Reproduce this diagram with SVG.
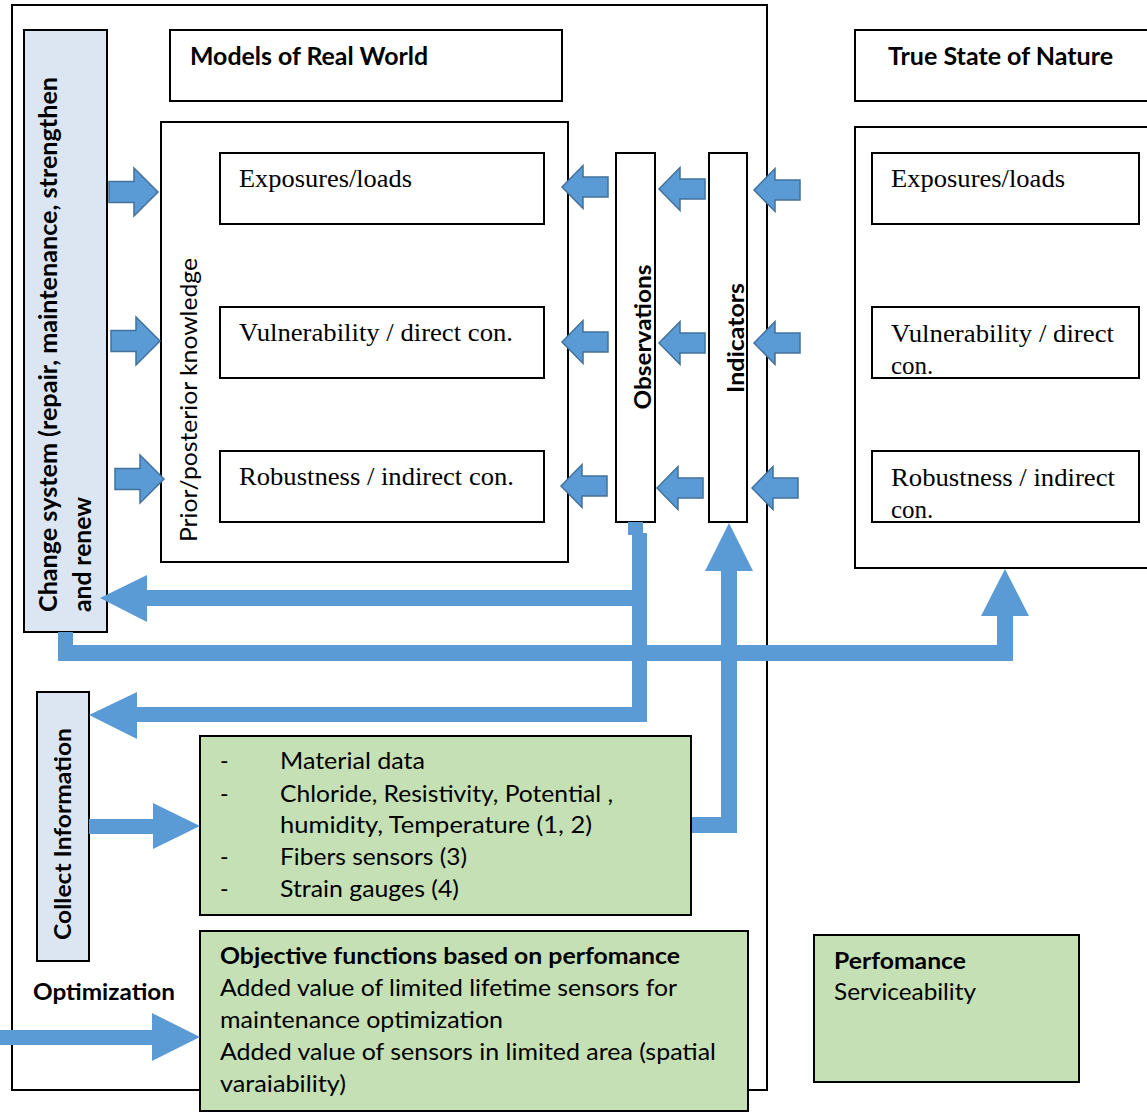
<svg xmlns="http://www.w3.org/2000/svg" width="1147" height="1113" viewBox="0 0 1147 1113">
<style>
.box{fill:#ffffff;stroke:#000000;stroke-width:2}
.blue{fill:#dce6f2;stroke:#000000;stroke-width:2}
.green{fill:#c5e0b4;stroke:#000000;stroke-width:2}
.sa{fill:#5b9bd5;stroke:#41719c;stroke-width:1.5}
.big{fill:#5b9bd5;stroke:none}
.hd{font-family:Lato,"Liberation Sans",sans-serif;font-weight:bold;font-size:24px;fill:#000}
.sans{font-family:Lato,"Liberation Sans",sans-serif;font-size:23px;fill:#000}
.sansb{font-family:Lato,"Liberation Sans",sans-serif;font-size:23px;font-weight:bold;fill:#000}
.ser{font-family:"Liberation Serif","Times New Roman",serif;font-size:25px;fill:#000}
</style>
<defs>
<path id="la" d="M0,0 L21,-21.5 L21,-10 L46,-10 L46,10 L21,10 L21,21.5 Z"/>
<path id="ra" d="M0,0 L-24,-24 L-24,-10.5 L-49,-10.5 L-49,10.5 L-24,10.5 L-24,24 Z"/>
</defs>
<rect width="1147" height="1113" fill="#fff"/>
<g id="outer"><rect class="box" x="12" y="5" width="755" height="1085"/></g>
<g id="change-system">
<rect class="blue" x="24" y="30" width="83" height="602"/>
<text class="hd" transform="translate(57,612) rotate(-90)" textLength="535" lengthAdjust="spacingAndGlyphs">Change system (repair, maintenance, strengthen</text>
<text class="hd" transform="translate(91,612) rotate(-90)" textLength="115" lengthAdjust="spacingAndGlyphs">and renew</text>
</g>
<g id="models-header">
<rect class="box" x="170" y="30" width="392" height="71"/>
<text class="hd" x="190" y="65" textLength="238" lengthAdjust="spacingAndGlyphs">Models of Real World</text>
</g>
<g id="prior-posterior">
<rect class="box" x="161" y="122" width="407" height="440"/>
<text class="sans" transform="translate(197,542) rotate(-90)" textLength="284" lengthAdjust="spacingAndGlyphs">Prior/posterior knowledge</text>
</g>
<g id="model-exposures">
<rect class="box" x="220" y="153" width="324" height="71"/>
<text class="ser" x="239" y="187" textLength="173" lengthAdjust="spacingAndGlyphs">Exposures/loads</text>
</g>
<g id="model-vulnerability">
<rect class="box" x="220" y="307" width="324" height="71"/>
<text class="ser" x="239" y="341" textLength="274" lengthAdjust="spacingAndGlyphs">Vulnerability / direct con.</text>
</g>
<g id="model-robustness">
<rect class="box" x="220" y="451" width="324" height="71"/>
<text class="ser" x="239" y="485" textLength="275" lengthAdjust="spacingAndGlyphs">Robustness / indirect con.</text>
</g>
<g id="observations">
<rect class="box" x="616" y="153" width="39" height="369"/>
<text class="sansb" text-anchor="middle" transform="translate(651,337) rotate(-90)" textLength="145" lengthAdjust="spacingAndGlyphs">Observations</text>
</g>
<g id="indicators">
<rect class="box" x="709" y="153" width="38" height="369"/>
<text class="sansb" text-anchor="middle" transform="translate(744,338) rotate(-90)" textLength="110" lengthAdjust="spacingAndGlyphs">Indicators</text>
</g>
<g id="nature-header">
<rect class="box" x="855" y="30" width="300" height="71"/>
<text class="hd" x="888" y="65" textLength="225" lengthAdjust="spacingAndGlyphs">True State of Nature</text>
</g>
<g id="nature-body"><rect class="box" x="855" y="127" width="300" height="441"/></g>
<g id="nature-exposures">
<rect class="box" x="872" y="153" width="267" height="71"/>
<text class="ser" x="891" y="187" textLength="174" lengthAdjust="spacingAndGlyphs">Exposures/loads</text>
</g>
<g id="nature-vulnerability">
<rect class="box" x="872" y="307" width="267" height="71"/>
<text class="ser" x="891" y="342" textLength="223" lengthAdjust="spacingAndGlyphs">Vulnerability / direct</text>
<text class="ser" x="891" y="374">con.</text>
</g>
<g id="nature-robustness">
<rect class="box" x="872" y="451" width="267" height="71"/>
<text class="ser" x="891" y="486" textLength="224" lengthAdjust="spacingAndGlyphs">Robustness / indirect</text>
<text class="ser" x="891" y="518">con.</text>
</g>
<g id="collect-information">
<rect class="blue" x="37" y="692" width="52" height="269"/>
<text class="sansb" text-anchor="middle" transform="translate(71,834) rotate(-90)" textLength="212" lengthAdjust="spacingAndGlyphs">Collect Information</text>
</g>
<g id="data-sources">
<rect class="green" x="200" y="736" width="491" height="179"/>
<g class="sans">
<text x="220" y="769">-</text><text x="280" y="769" textLength="145" lengthAdjust="spacingAndGlyphs">Material data</text>
<text x="220" y="802">-</text><text x="280" y="802" textLength="333" lengthAdjust="spacingAndGlyphs">Chloride, Resistivity, Potential ,</text>
<text x="280" y="833" textLength="312" lengthAdjust="spacingAndGlyphs">humidity, Temperature (1, 2)</text>
<text x="220" y="865">-</text><text x="280" y="865" textLength="187" lengthAdjust="spacingAndGlyphs">Fibers sensors (3)</text>
<text x="220" y="897">-</text><text x="280" y="897" textLength="179" lengthAdjust="spacingAndGlyphs">Strain gauges (4)</text>
</g>
</g>
<g id="optimization-label">
<text class="sansb" x="33" y="1000" textLength="142" lengthAdjust="spacingAndGlyphs">Optimization</text>
</g>
<g id="objective">
<rect class="green" x="200" y="931" width="548" height="180"/>
<text class="sansb" x="220" y="964" textLength="460" lengthAdjust="spacingAndGlyphs">Objective functions based on perfomance</text>
<text class="sans" x="220" y="996" textLength="457" lengthAdjust="spacingAndGlyphs">Added value of limited lifetime sensors for</text>
<text class="sans" x="220" y="1028" textLength="283" lengthAdjust="spacingAndGlyphs">maintenance optimization</text>
<text class="sans" x="220" y="1060" textLength="496" lengthAdjust="spacingAndGlyphs">Added value of sensors in limited area (spatial</text>
<text class="sans" x="220" y="1092" textLength="126" lengthAdjust="spacingAndGlyphs">varaiability)</text>
</g>
<g id="performance">
<rect class="green" x="814" y="935" width="265" height="147"/>
<text class="sansb" x="834" y="969" textLength="132" lengthAdjust="spacingAndGlyphs">Perfomance</text>
<text class="sans" x="834" y="1000" textLength="142" lengthAdjust="spacingAndGlyphs">Serviceability</text>
</g>
<g id="connectors">
<use href="#ra" class="sa" x="158" y="192"/>
<use href="#ra" class="sa" x="160" y="341"/>
<use href="#ra" class="sa" x="164" y="479"/>
<use href="#la" class="sa" x="562" y="187"/>
<use href="#la" class="sa" x="562" y="342"/>
<use href="#la" class="sa" x="561" y="486"/>
<use href="#la" class="sa" x="659" y="189"/>
<use href="#la" class="sa" x="659" y="343"/>
<use href="#la" class="sa" x="657" y="488"/>
<use href="#la" class="sa" x="754" y="190"/>
<use href="#la" class="sa" x="754" y="343"/>
<use href="#la" class="sa" x="752" y="488"/>
<path class="big" d="M628,522 H643 V533 H647 V722 H137 V739 L89,715 L137,692 V707 H632 V606 H147 V622 L100,598 L147,575 V590 H632 V535 H628 Z"/>
<path class="big" d="M58,632 H73 V645 H997 V616 H981 L1005,569 L1029,616 H1013 V661 H58 Z"/>
<path class="big" d="M692,817 H721 V571 H705 L729,523 L753,571 H737 V833 H692 Z"/>
<path class="big" d="M89,819 H153 V803 L200,826 L153,849 V834 H89 Z"/>
<path class="big" d="M0,1030 H152 V1013 L200,1037 L152,1061 V1045 H0 Z"/>
</g>
</svg>
